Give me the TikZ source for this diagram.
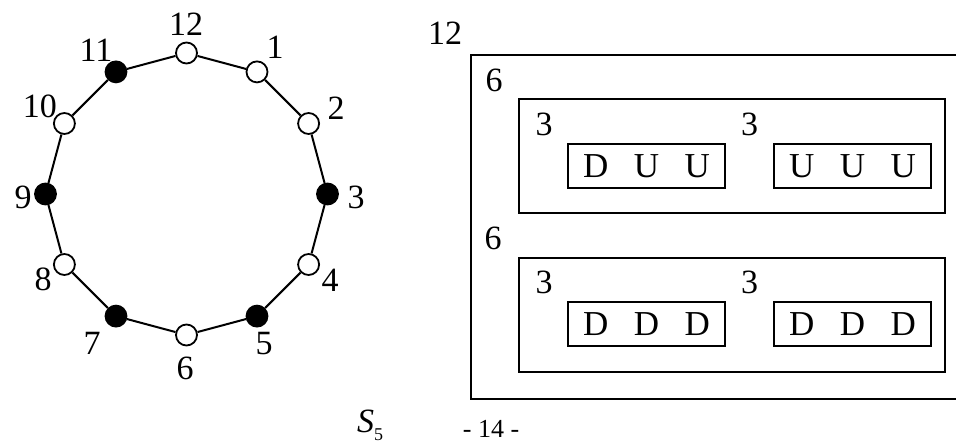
\documentclass[tikz,border=0pt]{standalone}
\usepackage{fontspec}
\setmainfont{Liberation Serif}
\begin{document}
\begin{tikzpicture}[x=1pt,y=-1pt,
 opennode/.style={circle,draw,line width=1.8pt,minimum size=21pt,inner sep=0pt,fill=white},
 fillnode/.style={opennode,fill=black},
 numlab/.style={inner sep=0pt,font=\fontsize{34}{40}\selectfont},
 boxline/.style={draw,line width=2pt,inner sep=0pt},
 wordbox/.style={boxline,minimum width=157pt,minimum height=44pt,font=\fontsize{35}{40}\selectfont},
 ring/.style={line width=2pt}]
\useasboundingbox (0,0) rectangle (956,443);
% ring of twelve sites
\foreach \k/\f in {1/opennode,2/opennode,3/fillnode,4/opennode,5/fillnode,6/opennode,7/fillnode,8/opennode,9/fillnode,10/opennode,11/fillnode,12/opennode}
  \node[\f] (v\k) at ({186.5+141*cos(90-30*\k)},{194-141*sin(90-30*\k)}) {};
\foreach \a/\b in {1/2,2/3,3/4,4/5,5/6,6/7,7/8,8/9,9/10,10/11,11/12,12/1}
  \draw[ring] (v\a) -- (v\b);
\node[numlab] (c12) at (186,24) {12};
\node[numlab] (c1) at (275,47) {1};
\node[numlab] (c2) at (336,108) {2};
\node[numlab] (c3) at (356,197) {3};
\node[numlab] (c4) at (330,280) {4};
\node[numlab] (c5) at (264,344) {5};
\node[numlab] (c6) at (185,368) {6};
\node[numlab] (c7) at (92,343) {7};
\node[numlab] (c8) at (43,279) {8};
\node[numlab] (c9) at (23,197) {9};
\node[numlab] (c10) at (40,106) {10};
\node[numlab] (c11) at (96,50) {11};
% nested boxes
\node[boxline,minimum width=520pt,minimum height=344pt,anchor=north west] (outer) at (470,54) {};
\node[boxline,minimum width=426pt,minimum height=114pt] (midA) at (732,156) {};
\node[boxline,minimum width=426pt,minimum height=114pt] (midB) at (732,315) {};
\node[wordbox] (wA) at (646.5,166) {D\hspace{0.73em}U\hspace{0.73em}U};
\node[wordbox] (wB) at (852.5,166) {U\hspace{0.73em}U\hspace{0.73em}U};
\node[wordbox] (wC) at (646.5,324.5) {D\hspace{0.73em}D\hspace{0.73em}D};
\node[wordbox] (wD) at (852.5,324.5) {D\hspace{0.73em}D\hspace{0.73em}D};
\node[numlab] (t12) at (445,33.5) {12};
\node[numlab] (t6a) at (494,80) {6};
\node[numlab] (t6b) at (493,238) {6};
\node[numlab] (t3a) at (544,124) {3};
\node[numlab] (t3b) at (749.5,124) {3};
\node[numlab] (t3c) at (544,282) {3};
\node[numlab] (t3d) at (749.5,282) {3};
% caption
\node[inner sep=0pt,anchor=base west,font=\fontsize{34}{40}\selectfont] (s5) at (357,433) {\itshape S\/\raisebox{-7pt}{\upshape\fontsize{18}{20}\selectfont 5}};
\node[inner sep=0pt,font=\fontsize{26}{30}\selectfont] (pg) at (491,429) {- 14 -};
\end{tikzpicture}
\end{document}
